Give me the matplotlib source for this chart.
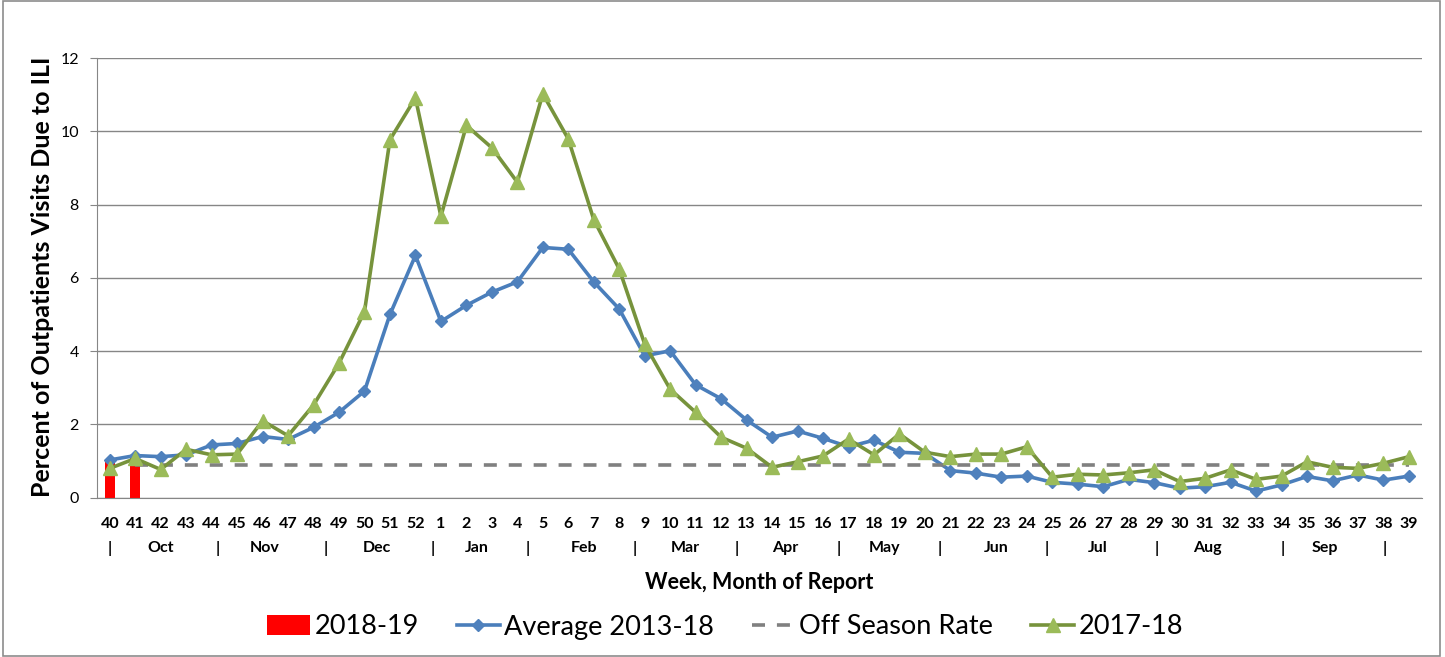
import matplotlib.pyplot as plt
from matplotlib.patches import Rectangle
from matplotlib.lines import Line2D
from matplotlib.patches import Patch
import numpy as np

plt.rcParams['font.family'] = ['Lato', 'DejaVu Sans']

# week labels, Oct 2017 season order
weeks = list(range(40, 53)) + list(range(1, 40))

# percent of outpatient visits due to ILI
avg_2013_18 = [1.03, 1.15, 1.12, 1.17, 1.44, 1.48, 1.67, 1.59, 1.92, 2.33, 2.91, 5.00, 6.61,
               4.81, 5.25, 5.61, 5.89, 6.83, 6.78, 5.89, 5.15, 3.87, 4.01, 3.08, 2.70, 2.12,
               1.65, 1.82, 1.62, 1.39, 1.57, 1.24, 1.21, 0.74, 0.67, 0.56, 0.59, 0.42, 0.37,
               0.30, 0.50, 0.41, 0.26, 0.30, 0.42, 0.18, 0.35, 0.58, 0.46, 0.62, 0.48, 0.59]
season_2017_18 = [0.80, 1.07, 0.77, 1.32, 1.17, 1.19, 2.10, 1.69, 2.53, 3.67, 5.08, 9.77, 10.91,
                  7.68, 10.16, 9.55, 8.61, 11.02, 9.79, 7.59, 6.24, 4.19, 2.96, 2.33, 1.65, 1.35,
                  0.83, 0.98, 1.14, 1.60, 1.17, 1.74, 1.24, 1.12, 1.19, 1.19, 1.39, 0.56, 0.64,
                  0.62, 0.68, 0.76, 0.44, 0.53, 0.76, 0.50, 0.59, 0.98, 0.83, 0.80, 0.94, 1.12]
season_2018_19 = [0.98, 1.12]
off_season_rate = 0.9

# month row under the week labels (positions in week index units)
months = ['Oct', 'Nov', 'Dec', 'Jan', 'Feb', 'Mar', 'Apr', 'May', 'Jun', 'Jul', 'Aug', 'Sep']
month_pos = [2.0, 6.1, 10.5, 14.4, 18.6, 22.6, 26.5, 30.4, 34.8, 38.8, 43.1, 47.7]
sep_pos = [0, 4.24, 8.47, 12.67, 16.4, 20.6, 24.6, 28.6, 32.6, 36.8, 41.1, 46.06, 50.06]

x = np.arange(len(weeks))

fig = plt.figure(figsize=(14.45, 6.57), dpi=100)
ax = fig.add_axes([97 / 1445, 159.3 / 657, 1324.7 / 1445, 439.7 / 657])

# chart area border
fig.patches.append(Rectangle((3 / 1445, 1 / 657), 1437 / 1445, 655 / 657,
                             transform=fig.transFigure, fill=False,
                             edgecolor='#8c8c8c', lw=1.2))

ax.bar(x[:len(season_2018_19)], season_2018_19, width=0.4, color='#ff0000', zorder=2)
ax.plot(x, avg_2013_18, color='#4a7ebb', lw=2.6, marker='D', markersize=6.5,
        markerfacecolor='#4f81bd', markeredgecolor='#4f81bd', zorder=3)
ax.plot(x[1:], [off_season_rate] * (len(x) - 1), color='#808080', lw=2.6, ls=(0, (3.6, 3.3)),
        zorder=3)
ax.plot(x, season_2017_18, color='#77933c', lw=2.6, marker='^', markersize=10,
        markerfacecolor='#9bbb59', markeredgecolor='#9bbb59', zorder=4)

ax.set_xlim(-0.5, len(weeks) - 0.5)
ax.set_ylim(0, 12)
ax.set_yticks(range(0, 13, 2))
ax.yaxis.grid(True, color='#868686', lw=1)
ax.set_axisbelow(True)
ax.tick_params(axis='y', direction='out', length=5, color='#868686', labelsize=11.5, pad=8)
ax.set_xticks(x)
ax.set_xticklabels([str(w) for w in weeks], fontsize=11.5, fontweight='bold')
ax.tick_params(axis='x', length=0, pad=14)
for s in ['top', 'right']:
    ax.spines[s].set_visible(False)
for s in ['left', 'bottom']:
    ax.spines[s].set_color('#868686')

for m, p in zip(months, month_pos):
    ax.text(p, -0.1144, m, transform=ax.get_xaxis_transform(), ha='center', va='center',
            fontsize=11.5, fontweight='bold')
for p in sep_pos:
    ax.text(p, -0.1144, '|', transform=ax.get_xaxis_transform(), ha='center', va='center',
            fontsize=11.5, fontweight='bold')

ax.text(0.5, -0.192, 'Week, Month of Report', transform=ax.transAxes, ha='center',
        va='center', fontsize=15.5, fontweight='bold')
ax.set_ylabel('Percent of Outpatients Visits Due to ILI', fontsize=18, fontweight='bold')
ax.yaxis.set_label_coords(-0.0408, 0.503)
ax.yaxis.label.set_va('center')

handles = [
    Patch(facecolor='#ff0000'),
    Line2D([], [], color='#4a7ebb', lw=2.6, marker='D', markersize=6.5,
           markerfacecolor='#4f81bd', markeredgecolor='#4f81bd'),
    Line2D([], [], color='#808080', lw=2.6, ls=(0, (3.6, 3.3))),
    Line2D([], [], color='#77933c', lw=2.6, marker='^', markersize=10,
           markerfacecolor='#9bbb59', markeredgecolor='#9bbb59'),
]
labels = ['2018-19', 'Average 2013-18', 'Off Season Rate', '2017-18']
fig.legend(handles, labels, loc='center', bbox_to_anchor=(725 / 1445, 1 - 627 / 657),
           ncol=4, frameon=False, fontsize=19.5, handlelength=1.6, handleheight=0.75,
           handletextpad=0.15, columnspacing=1.4)

fig.savefig('out.png', dpi=100)
